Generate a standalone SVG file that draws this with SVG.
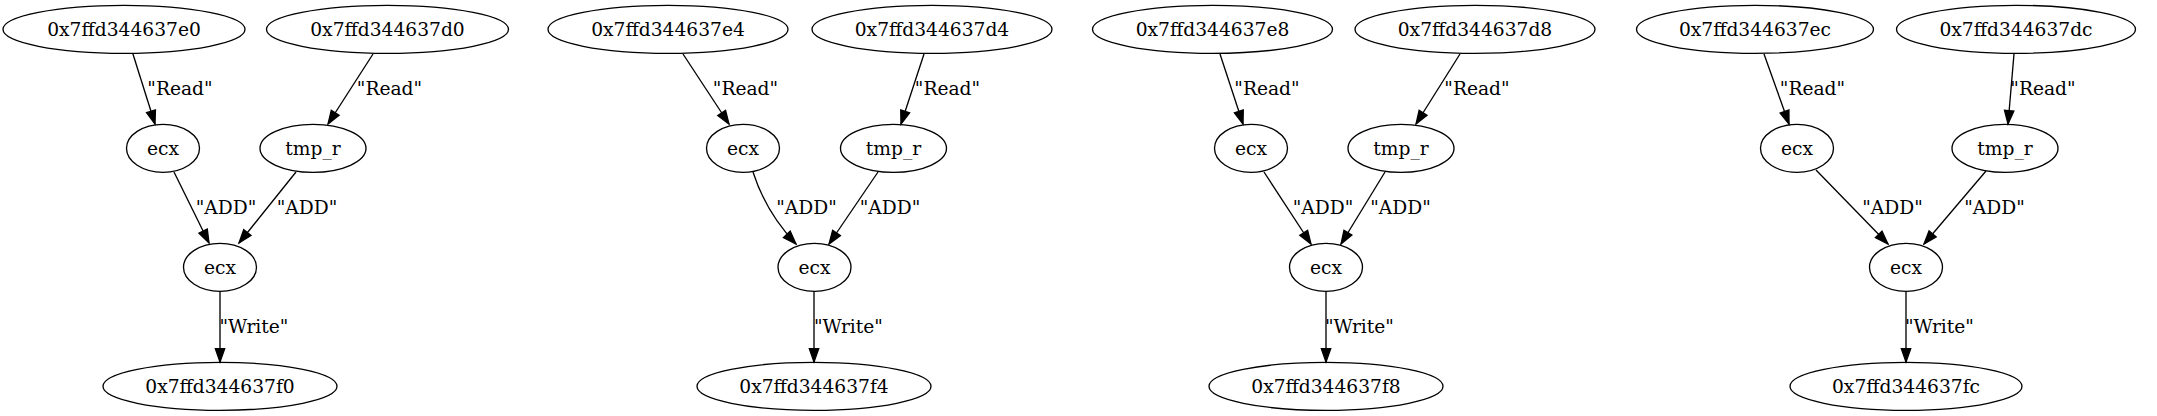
<svg xmlns="http://www.w3.org/2000/svg" width="2157" height="416" viewBox="0 0 2157 416">
<style>
.n ellipse{fill:none;stroke:#000;stroke-width:1.33}
text{font-family:"DejaVu Serif","Liberation Serif",serif;font-size:18.67px;fill:#000;text-anchor:middle}
.e path{fill:none;stroke:#000;stroke-width:1.33;marker-end:url(#ah)}
</style>
<defs>
<marker id="ah" markerUnits="userSpaceOnUse" markerWidth="16" markerHeight="12" refX="13.33" refY="4.67" orient="auto" overflow="visible">
<path d="M0,0 L13.33,4.67 L0,9.33 z" fill="#000" stroke="#000" stroke-width="1.33"/>
</marker>
</defs>
<rect width="2157" height="416" fill="#fff"/>
<g id="edges" class="e">
<path d="M132.7,53.3 L155,124"/>
<path d="M373,54 L328,124"/>
<path d="M174,172 L209,243"/>
<path d="M296,172 L239,243"/>
<path d="M220,291 L220,362"/>
<path d="M683,54 L729,124"/>
<path d="M924,54 L901,124"/>
<path d="M753,172 C762,200 775,222 796,244"/>
<path d="M878,172 L829,244"/>
<path d="M814,291 L814,362"/>
<path d="M1220,54 L1243,124"/>
<path d="M1460,54 L1416,124"/>
<path d="M1264,172 L1311,244"/>
<path d="M1385,172 L1341,244"/>
<path d="M1326,291 L1326,362"/>
<path d="M1764,54 L1789,124"/>
<path d="M2014,54 L2008,124"/>
<path d="M1816,170 L1888,244"/>
<path d="M1986,171 L1924,244"/>
<path d="M1906,291 L1906,362"/>
</g>
<g id="edge-labels">
<text x="180" y="95">"Read"</text>
<text x="389.5" y="95">"Read"</text>
<text x="226" y="214">"ADD"</text>
<text x="307" y="214">"ADD"</text>
<text x="254" y="333">"Write"</text>
<text x="745.5" y="95">"Read"</text>
<text x="947.5" y="95">"Read"</text>
<text x="806.5" y="214">"ADD"</text>
<text x="890" y="214">"ADD"</text>
<text x="848.5" y="333">"Write"</text>
<text x="1267" y="95">"Read"</text>
<text x="1477" y="95">"Read"</text>
<text x="1323" y="214">"ADD"</text>
<text x="1400.5" y="214">"ADD"</text>
<text x="1359.5" y="333">"Write"</text>
<text x="1812.5" y="95">"Read"</text>
<text x="2043" y="95">"Read"</text>
<text x="1892.5" y="214">"ADD"</text>
<text x="1994.5" y="214">"ADD"</text>
<text x="1939.5" y="333">"Write"</text>
</g>
<g id="a_e0" class="n"><ellipse cx="124" cy="29.33" rx="121" ry="24"/><text x="124" y="36">0x7ffd344637e0</text></g>
<g id="a_d0" class="n"><ellipse cx="387.5" cy="29.33" rx="121" ry="24"/><text x="387.5" y="36">0x7ffd344637d0</text></g>
<g id="a_ecx1" class="n"><ellipse cx="163" cy="148.33" rx="36.5" ry="24"/><text x="163" y="155">ecx</text></g>
<g id="a_tmp" class="n"><ellipse cx="313" cy="148.33" rx="53" ry="24"/><text x="313" y="155">tmp_r</text></g>
<g id="a_ecx2" class="n"><ellipse cx="220" cy="267.33" rx="36.5" ry="24"/><text x="220" y="274">ecx</text></g>
<g id="a_f0" class="n"><ellipse cx="220" cy="386.33" rx="117" ry="24"/><text x="220" y="393">0x7ffd344637f0</text></g>
<g id="b_e4" class="n"><ellipse cx="668" cy="29.33" rx="120" ry="24"/><text x="668" y="36">0x7ffd344637e4</text></g>
<g id="b_d4" class="n"><ellipse cx="932" cy="29.33" rx="120" ry="24"/><text x="932" y="36">0x7ffd344637d4</text></g>
<g id="b_ecx1" class="n"><ellipse cx="743" cy="148.33" rx="36.5" ry="24"/><text x="743" y="155">ecx</text></g>
<g id="b_tmp" class="n"><ellipse cx="893.5" cy="148.33" rx="53" ry="24"/><text x="893.5" y="155">tmp_r</text></g>
<g id="b_ecx2" class="n"><ellipse cx="814.5" cy="267.33" rx="36.5" ry="24"/><text x="814.5" y="274">ecx</text></g>
<g id="b_f4" class="n"><ellipse cx="814" cy="386.33" rx="117" ry="24"/><text x="814" y="393">0x7ffd344637f4</text></g>
<g id="c_e8" class="n"><ellipse cx="1212.5" cy="29.33" rx="120" ry="24"/><text x="1212.5" y="36">0x7ffd344637e8</text></g>
<g id="c_d8" class="n"><ellipse cx="1475" cy="29.33" rx="120" ry="24"/><text x="1475" y="36">0x7ffd344637d8</text></g>
<g id="c_ecx1" class="n"><ellipse cx="1251" cy="148.33" rx="36.5" ry="24"/><text x="1251" y="155">ecx</text></g>
<g id="c_tmp" class="n"><ellipse cx="1401" cy="148.33" rx="53" ry="24"/><text x="1401" y="155">tmp_r</text></g>
<g id="c_ecx2" class="n"><ellipse cx="1326" cy="267.33" rx="36.5" ry="24"/><text x="1326" y="274">ecx</text></g>
<g id="c_f8" class="n"><ellipse cx="1326" cy="386.33" rx="117" ry="24"/><text x="1326" y="393">0x7ffd344637f8</text></g>
<g id="d_ec" class="n"><ellipse cx="1755" cy="29.33" rx="118.5" ry="24"/><text x="1755" y="36">0x7ffd344637ec</text></g>
<g id="d_dc" class="n"><ellipse cx="2016" cy="29.33" rx="119.5" ry="24"/><text x="2016" y="36">0x7ffd344637dc</text></g>
<g id="d_ecx1" class="n"><ellipse cx="1797" cy="148.33" rx="36.5" ry="24"/><text x="1797" y="155">ecx</text></g>
<g id="d_tmp" class="n"><ellipse cx="2005" cy="148.33" rx="53" ry="24"/><text x="2005" y="155">tmp_r</text></g>
<g id="d_ecx2" class="n"><ellipse cx="1906" cy="267.33" rx="36.5" ry="24"/><text x="1906" y="274">ecx</text></g>
<g id="d_fc" class="n"><ellipse cx="1906" cy="386.33" rx="116" ry="24"/><text x="1906" y="393">0x7ffd344637fc</text></g>
</svg>
